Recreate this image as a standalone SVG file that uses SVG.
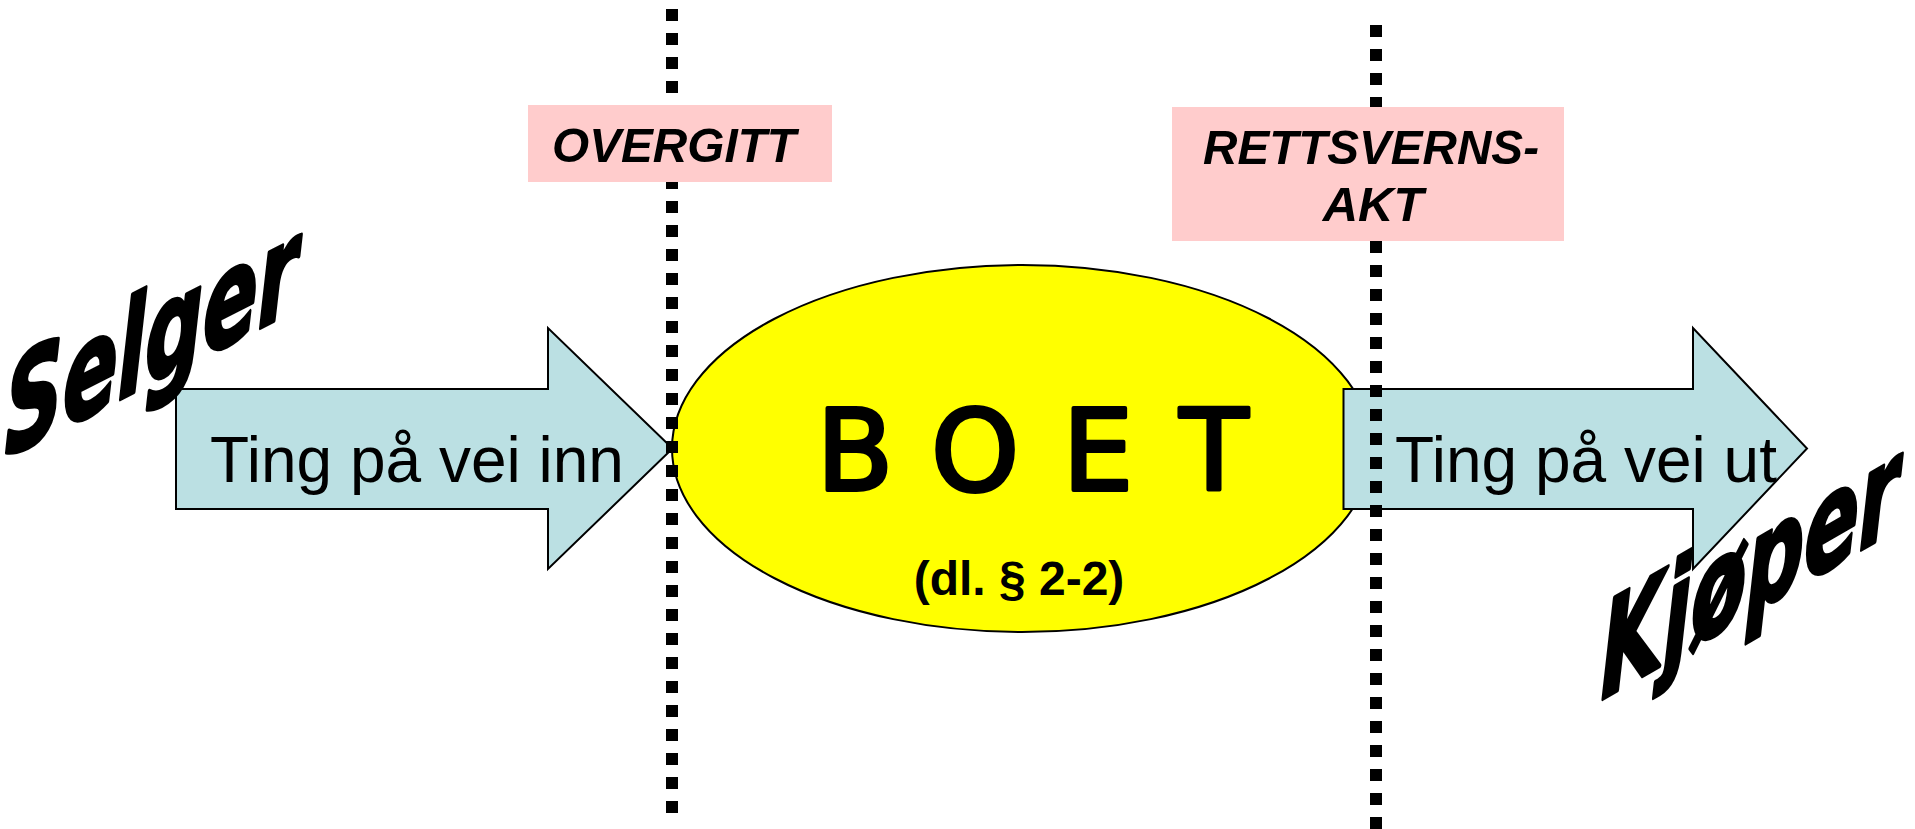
<svg xmlns="http://www.w3.org/2000/svg" width="1915" height="829" viewBox="0 0 1915 829">
<style>
.arrow{fill:#BBE0E3;stroke:#000;stroke-width:2;stroke-linejoin:miter}
.lbl{font-family:"Liberation Sans",Arial,sans-serif;font-size:64px;fill:#000}
.box{fill:#FFCCCC}
.boxt{font-family:"Liberation Sans",Arial,sans-serif;font-size:49px;font-weight:bold;font-style:italic;fill:#000}
.dots{stroke:#000;stroke-width:12;stroke-dasharray:12 12;fill:none}
.brush{font-family:"DejaVu Sans",sans-serif;font-weight:bold;font-style:italic;font-size:130px;fill:#000;stroke:#000;stroke-width:4;stroke-linejoin:round}
</style>
<rect width="1915" height="829" fill="#fff"/>
<g id="arrow-in">
<polygon class="arrow" points="176,389 548,389 548,328 672.5,448.5 548,569 548,509 176,509"/>
<text class="lbl" x="417" y="482" text-anchor="middle">Ting på vei inn</text>
</g>
<g id="boet">
<ellipse cx="1022" cy="448.5" rx="350" ry="183.5" fill="#FFFF00" stroke="#000" stroke-width="2"/>
<text x="855 915 975 1036 1098 1156 1214" y="490" text-anchor="middle" font-family="'DejaVu Sans',sans-serif" font-size="112" stroke="#000" stroke-width="4" stroke-linejoin="round" stroke-linecap="round">B O E T</text>
<text x="1019" y="595" text-anchor="middle" font-family="'Liberation Sans',Arial,sans-serif" font-weight="bold" font-size="48">(dl. § 2-2)</text>
</g>
<g id="arrow-out">
<polygon class="arrow" points="1343.5,389 1693,389 1693,328 1807,448.5 1693,569 1693,509 1343.5,509"/>
<text class="lbl" x="1586" y="482" text-anchor="middle">Ting på vei ut</text>
</g>
<g id="connectors">
<line class="dots" x1="672" y1="9" x2="672" y2="813"/>
<line class="dots" x1="1376" y1="25" x2="1376" y2="829"/>
</g>
<g id="overgitt">
<rect class="box" x="528" y="105" width="304" height="77"/>
<text class="boxt" x="674" y="162" text-anchor="middle" textLength="244" lengthAdjust="spacingAndGlyphs">OVERGITT</text>
</g>
<g id="rettsvernsakt">
<rect class="box" x="1172" y="107" width="392" height="134"/>
<text class="boxt" x="1371" y="164" text-anchor="middle" textLength="336" lengthAdjust="spacingAndGlyphs">RETTSVERNS-</text>
<text class="boxt" x="1373" y="221" text-anchor="middle">AKT</text>
</g>
<g id="selger">
<text class="brush" transform="translate(5,458) skewY(-27) scale(0.62,1)">Selger</text>
</g>
<g id="kjoper">
<text class="brush" transform="translate(1601,700) skewY(-30) scale(0.62,1)">Kjøper</text>
</g>
</svg>
